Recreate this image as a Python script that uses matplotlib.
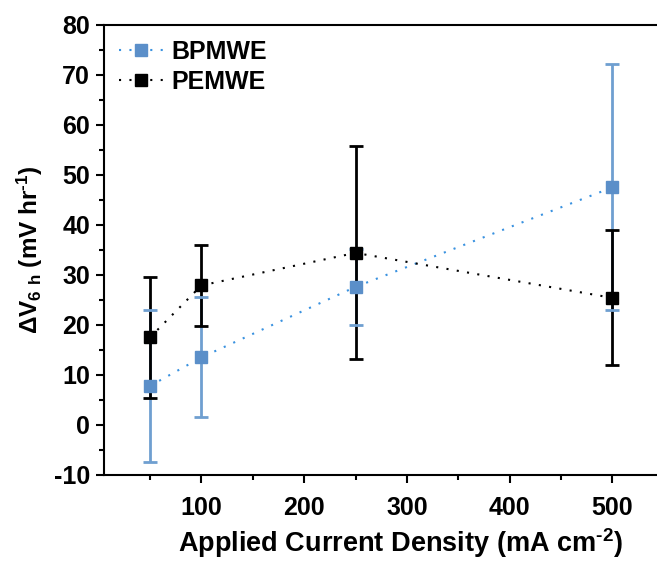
import matplotlib
matplotlib.use("Agg")
import matplotlib.pyplot as plt
from matplotlib.ticker import MultipleLocator

plt.rcParams['font.family'] = ['Liberation Sans', 'DejaVu Sans']
plt.rcParams['font.weight'] = 'bold'
plt.rcParams['mathtext.fontset'] = 'custom'
plt.rcParams['mathtext.rm'] = 'Liberation Sans:bold'
plt.rcParams['mathtext.bf'] = 'Liberation Sans:bold'
plt.rcParams['mathtext.default'] = 'bf'
plt.rcParams['axes.unicode_minus'] = False

current_density = [50, 100, 250, 500]
bpmwe_values = [7.8, 13.5, 27.6, 47.5]
bpmwe_errors = [15.2, 12.0, 7.6, 24.6]
pemwe_values = [17.5, 27.9, 34.4, 25.4]
pemwe_errors = [12.1, 8.1, 21.3, 13.5]

blue_marker = '#5b8fc9'
blue_line = '#3a92e0'
blue_err = '#6f9fd0'

fig = plt.figure(figsize=(6.57, 5.62), dpi=100)
ax = fig.add_axes([0.158, 0.155, 0.868, 0.8007])

dot = (0, (1, 4))
ax.plot(current_density, bpmwe_values, linestyle=dot, color=blue_line, lw=1.5, zorder=2)
eb1 = ax.errorbar(current_density, bpmwe_values, yerr=bpmwe_errors, fmt='none',
                  ecolor=blue_err, elinewidth=2, capsize=5, capthick=2, zorder=2)
ax.plot(current_density, pemwe_values, linestyle=dot, color='black', lw=1.5, zorder=3)
eb2 = ax.errorbar(current_density, pemwe_values, yerr=pemwe_errors, fmt='none',
                  ecolor='black', elinewidth=2, capsize=5, capthick=2, zorder=3)
for c in eb1[1]:
    c.set_zorder(4)
ax.plot(current_density, bpmwe_values, linestyle='none', marker='s', ms=8,
        color=blue_marker, zorder=5)
ax.plot(current_density, pemwe_values, linestyle='none', marker='s', ms=8,
        color='black', zorder=5)

h1, = ax.plot([], [], linestyle=dot, color=blue_line, lw=1.5, marker='s', ms=8,
              markerfacecolor=blue_marker, markeredgecolor=blue_marker)
h2, = ax.plot([], [], linestyle=dot, color='black', lw=1.5, marker='s', ms=8,
              markerfacecolor='black', markeredgecolor='black')
ax.legend([h1, h2], ['BPMWE', 'PEMWE'], loc='upper left', frameon=False,
          fontsize=18, handlelength=1.8, handletextpad=0.3, borderaxespad=0.2,
          labelspacing=0.25, bbox_to_anchor=(0.0, 1.0))

ax.set_xlim(5, 560)
ax.set_ylim(-10, 80)
ax.set_xticks([100, 200, 300, 400, 500])
ax.xaxis.set_minor_locator(MultipleLocator(50))
ax.yaxis.set_major_locator(MultipleLocator(10))
ax.yaxis.set_minor_locator(MultipleLocator(5))
ax.tick_params(axis='y', which='major', direction='out', length=6, width=1.5, labelsize=18, pad=4)
ax.tick_params(axis='x', which='major', direction='out', length=6, width=1.5, labelsize=18, pad=9)
ax.tick_params(which='minor', direction='out', length=3.5, width=1.5)
ax.tick_params(top=False, right=False)
for lbl in ax.get_xticklabels() + ax.get_yticklabels():
    lbl.set_fontweight('bold')
for s in ax.spines.values():
    s.set_linewidth(1.5)

ax.set_xlabel('Applied Current Density (mA cm$^{\\text{-2}}$)', fontsize=19.5, fontweight='bold')
ax.xaxis.set_label_coords(0.52, -0.113)
ax.set_ylabel('ΔV$_{6\\ h}$ (mV hr$^{\\text{-1}}$)', fontsize=17.5, fontweight='bold', labelpad=6)

fig.savefig('out.png', dpi=100)
